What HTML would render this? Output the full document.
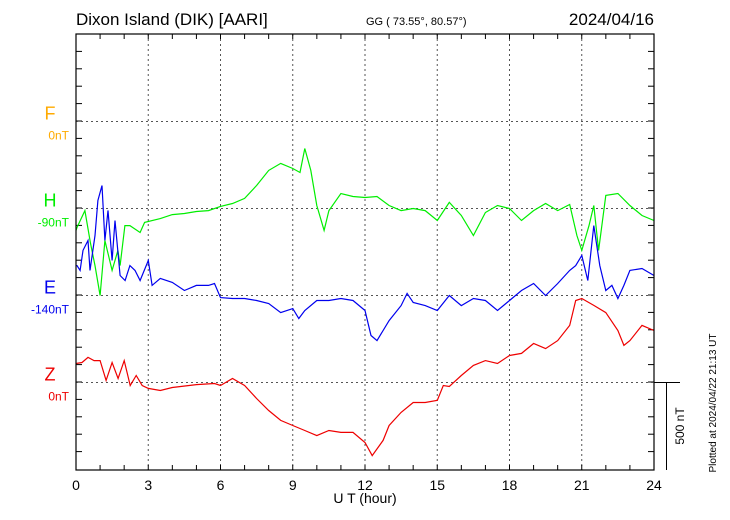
<!DOCTYPE html>
<html><head><meta charset="utf-8">
<style>
html,body{margin:0;padding:0;background:#fff;}
svg{display:block;font-family:"Liberation Sans",Arial,sans-serif;}
</style></head>
<body>
<svg id="chart" width="730" height="520" viewBox="0 0 730 520">
<text x="76" y="25" font-size="17" fill="#000">Dixon Island (DIK)  [AARI]</text>
<text x="366" y="25" font-size="11" fill="#000">GG ( 73.55°,  80.57°)</text>
<text x="654" y="25" font-size="17" fill="#000" text-anchor="end">2024/04/16</text>
<g id="grid"></g>
<g id="series"></g>
<rect x="76" y="34" width="578" height="436" fill="none" stroke="#000" stroke-width="1.2"/>
<g id="labels"></g>
<text x="365" y="503" font-size="14" text-anchor="middle">U T (hour)</text>
<line x1="654" y1="382.5" x2="680" y2="382.5" stroke="#000"/>
<line x1="666.5" y1="382.5" x2="666.5" y2="470" stroke="#000"/>
<text transform="translate(684,426) rotate(-90)" font-size="12" text-anchor="middle">500 nT</text>
<text transform="translate(716,403) rotate(-90)" font-size="10" text-anchor="middle">Plotted at 2024/04/22 21:13 UT</text>
</svg>
<script>
const xTickLabels=[0,3,6,9,12,15,18,21,24];
const components=["F","H","E","Z"];
const baselineLabels=["0nT","-90nT","-140nT","0nT"];
const compColors=["#ffaa00","#00ee00","#0000ee","#ee0000"];
const hTimes=[0,0.04,0.37,0.6,0.79,1.0,1.2,1.5,1.74,1.83,2.03,2.24,2.66,2.85,3.5,4,4.5,5,5.5,6,6.5,7,7.5,8,8.5,9,9.3,9.5,9.75,10,10.3,10.5,11,11.5,12,12.5,13,13.5,14,14.5,15,15.5,16,16.5,17,17.5,18,18.5,19,19.5,20,20.5,20.8,21,21.3,21.5,21.7,22,22.5,23,23.5,24];
const hValues=[-126,-109,-12,-200,-328,-500,-184,-356,-241,-328,-98,-98,-138,-80,-58,-35,-29,-17,-12,12,29,58,132,219,259,230,207,345,219,17,-126,-12,86,69,63,69,17,-12,0,-12,-69,35,-40,-155,-23,17,0,-69,-12,29,-12,23,-155,-241,-98,17,-241,75,86,17,-40,-69];
const eTimes=[0,0.04,0.17,0.29,0.5,0.58,0.79,0.91,1.08,1.2,1.33,1.5,1.62,1.83,2.04,2.24,2.45,2.66,3.0,3.16,3.5,4,4.5,5,5.5,5.75,6,6.5,7,7.5,8,8.5,9,9.25,9.5,10,10.5,11,11.5,12,12.25,12.5,13,13.5,13.75,14,14.5,15,15.5,16,16.5,17,17.5,18,18.5,19,19.5,20,20.5,20.75,21,21.25,21.5,21.75,22,22.25,22.5,22.75,23,23.5,24];
const eValues=[172,172,144,259,316,144,345,546,632,316,489,201,431,115,86,172,144,86,201,58,98,75,29,58,58,69,-12,-17,-17,-29,-46,-98,-75,-132,-86,-29,-29,-17,-29,-86,-230,-259,-144,-58,12,-40,-58,-86,0,-58,-17,-29,-86,-29,29,69,0,69,144,172,230,86,402,172,29,58,-17,58,144,155,115];
const zTimes=[0,0.25,0.5,0.75,1,1.25,1.5,1.75,2,2.25,2.5,2.75,3,3.5,4,5,5.75,6,6.5,7,7.5,8,8.5,9,9.5,10,10.5,11,11.5,12,12.3,12.75,13,13.5,14,14.5,15,15.25,15.5,16,16.5,17,17.5,18,18.5,19,19.5,20,20.5,20.75,21,21.5,22,22.5,22.75,23,23.5,24];
const zValues=[109,115,144,126,126,12,115,23,126,-17,40,-17,-34,-46,-29,-12,-6,-17,23,-17,-92,-161,-218,-247,-276,-305,-276,-287,-287,-345,-420,-333,-247,-172,-115,-115,-103,-17,-23,40,98,126,109,155,167,224,195,241,328,471,483,443,402,299,213,241,328,299];

const NS="http://www.w3.org/2000/svg";
const X0=76,X1=654,Y0=34,Y1=470;
const baseY=[121.5,208.5,295.5,382.5];
const pxPerNT=87/500;
function xs(t){return X0+(X1-X0)*t/24;}
function ys(i,v){return baseY[i]-v*pxPerNT;}
const grid=document.getElementById('grid'),labels=document.getElementById('labels'),series=document.getElementById('series');
function mk(tag,attrs,parent){const e=document.createElementNS(NS,tag);for(const k in attrs)e.setAttribute(k,attrs[k]);parent.appendChild(e);return e;}
xTickLabels.forEach(t=>{
  const x=xs(t);
  if(t>0&&t<24){const l=mk('line',{x1:x,y1:Y0,x2:x,y2:Y1,stroke:'#555','stroke-dasharray':'2,3'},grid);
  
  }
  const tx=mk('text',{x:x,y:490,'font-size':14,'text-anchor':'middle'},labels);
  tx.textContent=t;
  
  
});
for(let h=1;h<24;h++){
  const x=xs(h);
  const a=mk('line',{x1:x,y1:Y1,x2:x,y2:Y1-5,stroke:'#000'},grid);
  
  
  const b=mk('line',{x1:x,y1:Y0,x2:x,y2:Y0+5,stroke:'#000'},grid);
  
  
}
for(let k=1;k<25;k++){
  const y=Y0+k*17.4;
  const a=mk('line',{x1:X0,y1:y,x2:X0+6,y2:y,stroke:'#000'},grid);
  
  
  const b=mk('line',{x1:X1,y1:y,x2:X1-6,y2:y,stroke:'#000'},grid);
  
  
}
baseY.forEach((y,i)=>{
  const l=mk('line',{x1:X0,y1:y,x2:X1,y2:y,stroke:'#555','stroke-dasharray':'2,3'},grid);
  
  
  const c=mk('text',{x:50,y:y-2,'font-size':18,'text-anchor':'middle',fill:compColors[i]},labels);
  c.textContent=components[i];
  
  
  const b=mk('text',{x:69,y:y+18,'font-size':12,'text-anchor':'end',fill:compColors[i]},labels);
  b.textContent=baselineLabels[i];
  
  
});
function drawSeries(times,vals,i,name){
  const d=times.map((t,k)=>(k?'L':'M')+xs(t).toFixed(1)+','+ys(i,vals[k]).toFixed(1)).join(' ');
  const p=mk('path',{d:d,fill:'none',stroke:compColors[i],'stroke-width':1.2},series);
  
  
}
drawSeries(zTimes,zValues,3,'z-series');
drawSeries(hTimes,hValues,1,'h-series');
drawSeries(eTimes,eValues,2,'e-series');
</script>
</body></html>
